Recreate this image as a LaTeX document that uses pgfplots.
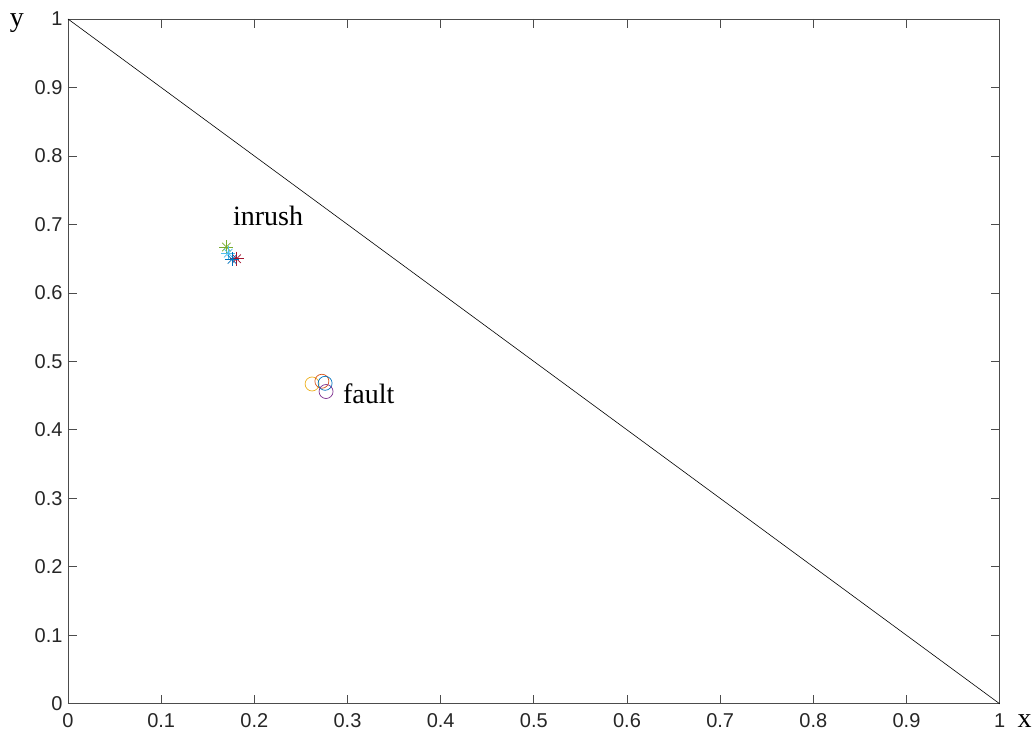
\documentclass[border=0pt]{standalone}
\usepackage{fontspec}
\setmainfont{Liberation Sans}
\newfontfamily\tnr{Liberation Serif}
\usepackage{pgfplots}
\pgfplotsset{compat=1.18}
\definecolor{mblue}{rgb}{0,0.447,0.741}
\definecolor{morange}{rgb}{0.85,0.325,0.098}
\definecolor{myellow}{rgb}{0.929,0.694,0.125}
\definecolor{mpurple}{rgb}{0.494,0.184,0.556}
\definecolor{mgreen}{rgb}{0.466,0.674,0.188}
\definecolor{mcyan}{rgb}{0.301,0.745,0.933}
\definecolor{mred}{rgb}{0.635,0.078,0.184}
\newcommand\tl{\fontsize{20}{23}\selectfont}
\begin{document}
\begin{tikzpicture}
\begin{axis}[name=ax,
  scale only axis, width=932pt, height=685pt,
  xmin=0, xmax=1, ymin=0, ymax=1,
  xtick={0,0.1,...,1}, ytick={0,0.1,...,1},
  tick align=inside, major tick length=9pt,
  xticklabels={\tl 0,\tl 0.1,\tl 0.2,\tl 0.3,\tl 0.4,\tl 0.5,\tl 0.6,\tl 0.7,\tl 0.8,\tl 0.9,\tl 1},
  yticklabels={\tl 0,\tl 0.1,\tl 0.2,\tl 0.3,\tl 0.4,\tl 0.5,\tl 0.6,\tl 0.7,\tl 0.8,\tl 0.9,\tl 1},
  tick label style={text=black!85},
  xticklabel style={yshift=-6pt},
  yticklabel style={xshift=-2pt},
  axis line style={black!70, line width=0.8pt},
  tick style={black!70, line width=0.8pt},
  clip=false,
]
\addplot[black, line width=0.6pt] coordinates {(0,1) (1,0)};
% stars (inrush)
\addplot[only marks, mark=+, mark size=7pt, mgreen, line width=0.7pt] coordinates {(0.170,0.667)};
\addplot[only marks, mark=x, mark size=6pt, mgreen, line width=0.7pt] coordinates {(0.170,0.667)};
\addplot[only marks, mark=+, mark size=7pt, mcyan, line width=0.7pt] coordinates {(0.172,0.658)};
\addplot[only marks, mark=x, mark size=6pt, mcyan, line width=0.7pt] coordinates {(0.172,0.658)};
\addplot[only marks, mark=+, mark size=7pt, mred, line width=0.7pt] coordinates {(0.181,0.650)};
\addplot[only marks, mark=x, mark size=6pt, mred, line width=0.7pt] coordinates {(0.181,0.650)};
\addplot[only marks, mark=+, mark size=7pt, mblue, line width=0.7pt] coordinates {(0.176,0.649)};
\addplot[only marks, mark=x, mark size=6pt, mblue, line width=0.7pt] coordinates {(0.176,0.649)};
% circles (fault)
\addplot[only marks, mark=o, mark size=7pt, myellow, line width=0.7pt] coordinates {(0.262,0.467)};
\addplot[only marks, mark=o, mark size=7pt, morange, line width=0.7pt] coordinates {(0.2725,0.471)};
\addplot[only marks, mark=o, mark size=7pt, mblue, line width=0.7pt] coordinates {(0.276,0.468)};
\addplot[only marks, mark=o, mark size=7pt, mpurple, line width=0.7pt] coordinates {(0.277,0.456)};
\node[anchor=base west, inner sep=0pt, font=\tnr\fontsize{28}{30}\selectfont] at (axis cs:0.177,0.699) {inrush};
\node[anchor=base west, inner sep=0pt, font=\tnr\fontsize{28}{30}\selectfont] at (axis cs:0.295,0.438) {fault};
\end{axis}
\node[font=\tnr\fontsize{28}{30}\selectfont, anchor=base] at ([xshift=-51pt, yshift=-8pt]ax.north west) {y};
\node[font=\tnr\fontsize{28}{30}\selectfont, anchor=base] at ([xshift=25pt, yshift=-24pt]ax.south east) {x};
\path ([xshift=-68pt, yshift=-41pt]ax.south west) rectangle ([xshift=35pt, yshift=19pt]ax.north east);
\end{tikzpicture}
\end{document}
